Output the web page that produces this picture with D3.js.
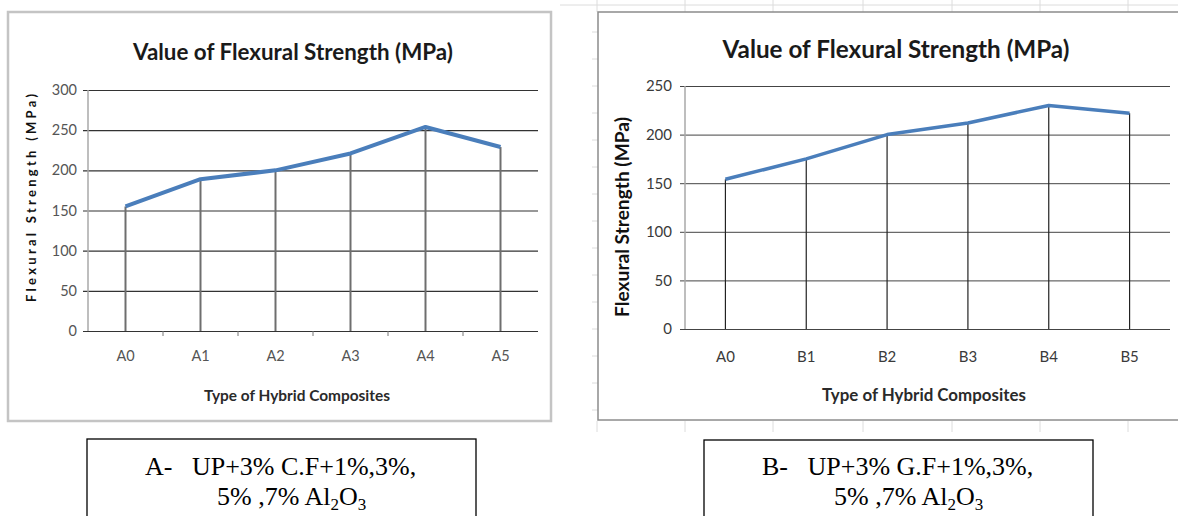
<!DOCTYPE html>
<html>
<head>
<meta charset="utf-8">
<script src="https://cdn.jsdelivr.net/npm/d3@7"></script>
<style>
  body { margin: 0; background: #fff; }
  svg { display: block; }
</style>
</head>
<body>
<svg id="chart" width="1178" height="516"></svg>
<script>
// A: UP + 3% carbon fibre
var catsA = ["A0", "A1", "A2", "A3", "A4", "A5"];
var valsA = [155, 189, 200, 221, 254, 229];
var ticksA = [0, 50, 100, 150, 200, 250, 300];

// B: UP + 3% glass fibre
var catsB = ["A0", "B1", "B2", "B3", "B4", "B5"];
var valsB = [154, 175, 200, 212, 230, 222];
var ticksB = [0, 50, 100, 150, 200, 250];

var chartTitle = "Value of Flexural Strength (MPa)";
var xTitle = "Type of Hybrid Composites";
var yTitle = "Flexural Strength (MPa)";

var captionA = ["A-   UP+3% C.F+1%,3%,", ["5% ,7% Al", "2", "O", "3"]];
var captionB = ["B-   UP+3% G.F+1%,3%,", ["5% ,7% Al", "2", "O", "3"]];

var svg = d3.select("#chart");

var translate = (x, y) => "translate(" + x + "," + y + ")";

// scale font so the text takes the width
function fit(sel, w) {
  var len = sel.node().getComputedTextLength();
  var fs = parseFloat(sel.attr("font-size"));
  sel.attr("font-size", fs * w / len);
  return sel;
}

// faint spreadsheet cells behind the right chart
var bg = svg.append("g").attr("stroke", "#dcdcdc").attr("stroke-width", 1);
[597, 685, 773, 863, 952, 1040, 1128].forEach(function(cx) {
  bg.append("line").attr("x1", cx).attr("x2", cx).attr("y1", 0).attr("y2", 12);
  bg.append("line").attr("x1", cx).attr("x2", cx).attr("y1", 421).attr("y2", 432);
});
bg.append("line").attr("x1", 560).attr("x2", 1178).attr("y1", 5).attr("y2", 5);
[32, 59, 86, 113, 140, 167, 194, 221, 248, 275, 302, 329, 356, 383, 410].forEach(function(cy) {
  bg.append("line").attr("x1", 592).attr("x2", 598).attr("y1", cy).attr("y2", cy);
});

function drawChart(cfg) {
  var g = svg.append("g");

  // chart frame
  g.append("rect")
    .attr("x", cfg.frame[0]).attr("y", cfg.frame[1])
    .attr("width", cfg.frame[2]).attr("height", cfg.frame[3])
    .attr("fill", "#fff")
    .attr("stroke", cfg.frameColor)
    .attr("stroke-width", cfg.frameWidth);

  var x = d3.scaleBand().domain(cfg.cats).range([cfg.plot[0], cfg.plot[1]]);
  var y = d3.scaleLinear().domain([0, d3.max(cfg.ticks)]).range([cfg.plot[3], cfg.plot[2]]);
  var w = cfg.plot[1] - cfg.plot[0];
  var cx = function(c) { return x(c) + x.bandwidth() / 2; };

  // y axis with gridlines
  var ya = g.append("g")
    .attr("transform", translate(cfg.plot[0], 0))
    .call(d3.axisLeft(y).tickValues(cfg.ticks).tickSizeInner(-w).tickSizeOuter(0).tickPadding(cfg.tickPad));
  ya.select(".domain").remove();
  ya.selectAll(".tick line")
    .attr("x1", -5)
    .attr("stroke", cfg.gridColor)
    .attr("stroke-width", cfg.gridWidth);
  ya.selectAll(".tick text")
    .attr("font-family", "Lato, sans-serif")
    .attr("font-size", cfg.tickFont)
    .attr("fill", cfg.labelColor);

  g.append("line")
    .attr("x1", cfg.plot[0]).attr("x2", cfg.plot[0])
    .attr("y1", y(0)).attr("y2", y(d3.max(cfg.ticks)))
    .attr("stroke", "#a8a8a8").attr("stroke-width", 1.5);

  // x axis labels
  var xa = g.append("g")
    .attr("transform", translate(0, y(0)))
    .call(d3.axisBottom(x).tickSize(0).tickPadding(cfg.xPad));
  xa.select(".domain").remove();
  xa.selectAll(".tick text")
    .attr("font-family", "Lato, sans-serif")
    .attr("font-size", cfg.tickFont)
    .attr("fill", cfg.labelColor);

  if (cfg.minorTicks) {
    g.selectAll("line.minor")
      .data(cfg.cats.slice(1))
      .enter().append("line")
      .attr("class", "minor")
      .attr("x1", function(c) { return x(c); })
      .attr("x2", function(c) { return x(c); })
      .attr("y1", y(0)).attr("y2", y(0) + 5)
      .attr("stroke", "#777").attr("stroke-width", 1);
  }

  var pts = cfg.cats.map(function(c, i) { return { c: c, v: cfg.vals[i] }; });

  // drop lines
  g.selectAll("line.drop")
    .data(pts)
    .enter().append("line")
    .attr("class", "drop")
    .attr("x1", function(d) { return cx(d.c); })
    .attr("x2", function(d) { return cx(d.c); })
    .attr("y1", function(d) { return y(d.v); })
    .attr("y2", y(0))
    .attr("stroke", cfg.dropColor)
    .attr("stroke-width", cfg.dropWidth);

  var line = d3.line()
    .x(function(d) { return cx(d.c); })
    .y(function(d) { return y(d.v); });

  g.append("path")
    .datum(pts)
    .attr("d", line)
    .attr("fill", "none")
    .attr("stroke", "#4a7ebb")
    .attr("stroke-width", cfg.lineWidth)
    .attr("stroke-linejoin", "round");

  // titles
  var t = g.append("text")
    .attr("x", cfg.title[0]).attr("y", cfg.title[1])
    .attr("text-anchor", "middle")
    .attr("font-family", "Lato, sans-serif")
    .attr("font-weight", "bold")
    .attr("font-size", 22)
    .attr("fill", "#1a1a1a")
    .text(chartTitle);
  fit(t, cfg.title[2]);

  var xt = g.append("text")
    .attr("x", cfg.xTitle[0]).attr("y", cfg.xTitle[1])
    .attr("text-anchor", "middle")
    .attr("font-family", "Lato, sans-serif")
    .attr("font-weight", "bold")
    .attr("font-size", 15)
    .attr("fill", "#2a2a2a")
    .text(xTitle);
  fit(xt, cfg.xTitle[2]);

  var yt = g.append("text")
    .attr("transform", translate(cfg.yTitle[0], cfg.yTitle[1]) + " rotate(-90)")
    .attr("text-anchor", "middle")
    .attr("font-family", "Lato, sans-serif")
    .attr("font-weight", "bold")
    .attr("font-size", cfg.yTitle[3])
    .attr("fill", "#111")
    .text(yTitle);
  if (cfg.yTitle[4]) {
    // left chart: smaller text spread over the same height
    yt.attr("textLength", cfg.yTitle[2]).attr("lengthAdjust", "spacing");
  } else {
    fit(yt, cfg.yTitle[2]);
  }

  // caption box below the chart
  g.append("rect")
    .attr("x", cfg.box[0]).attr("y", cfg.box[1])
    .attr("width", cfg.box[2]).attr("height", 100)
    .attr("fill", "none")
    .attr("stroke", "#000").attr("stroke-width", 1.3);

  var cap = g.append("g")
    .attr("font-family", "'Liberation Serif', 'Times New Roman', serif")
    .attr("font-size", 26)
    .attr("fill", "#000");
  cap.append("text")
    .attr("x", cfg.capX[0]).attr("y", 475)
    .attr("xml:space", "preserve")
    .style("white-space", "pre")
    .text(cfg.caption[0]);
  var l2 = cap.append("text").attr("x", cfg.capX[1]).attr("y", 505);
  cfg.caption[1].forEach(function(s, i) {
    var sp = l2.append("tspan").text(s);
    if (i % 2 === 1) sp.attr("font-size", 17).attr("dy", 5);
    else if (i > 0) sp.attr("dy", -5);
  });
}

drawChart({
  cats: catsA, vals: valsA, ticks: ticksA,
  frame: [8, 12, 543, 409], frameColor: "#c4c4c4", frameWidth: 2.5,
  plot: [88, 538, 90, 331],
  tickPad: 11, xPad: 20, tickFont: 14.5, labelColor: "#555",
  gridColor: "#333", gridWidth: 1.2,
  dropColor: "#6e6e6e", dropWidth: 2,
  lineWidth: 4, minorTicks: true,
  title: [293, 60, 320],
  xTitle: [297, 401, 186],
  yTitle: [36, 198, 208, 13, true],
  box: [87, 439, 389], capX: [145, 217],
  caption: captionA
});

drawChart({
  cats: catsB, vals: valsB, ticks: ticksB,
  frame: [598, 12, 600, 408], frameColor: "#8c8c8c", frameWidth: 1.5,
  plot: [685, 1170, 86, 329],
  tickPad: 13, xPad: 22, tickFont: 15, labelColor: "#3a3a3a",
  gridColor: "#444", gridWidth: 1,
  dropColor: "#222", dropWidth: 1.2,
  lineWidth: 3.5, minorTicks: false,
  title: [896, 58, 347],
  xTitle: [924, 401, 204],
  yTitle: [629, 217, 200, 15, false],
  box: [704, 440, 389], capX: [762, 834],
  caption: captionB
});
</script>
</body>
</html>
